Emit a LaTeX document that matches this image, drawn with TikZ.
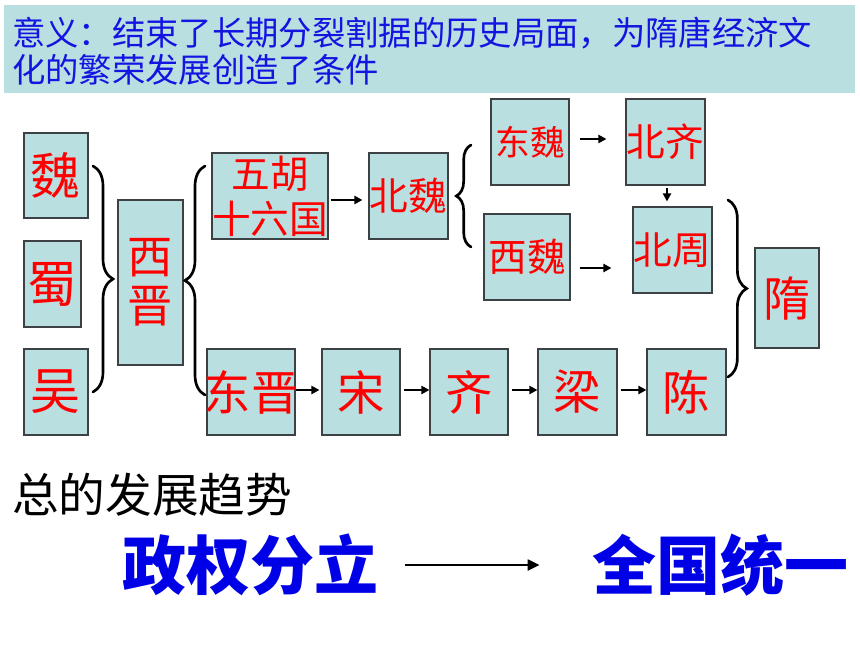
\documentclass[tikz,border=0pt]{standalone}
\usepackage{fontspec}
\setmainfont{Noto Sans CJK SC}
\usetikzlibrary{arrows.meta,calc,decorations.pathreplacing}
\definecolor{boxfill}{RGB}{185,223,225}
\definecolor{boxline}{RGB}{60,66,68}
\definecolor{hdrblue}{RGB}{20,20,225}
\definecolor{tred}{RGB}{255,0,0}
\definecolor{bigblue}{RGB}{0,0,230}
\tikzset{
 pbox/.style={draw=boxline, fill=boxfill, line width=0.8pt, inner sep=0pt, text=tred, align=center},
 arr/.style={line width=1.8pt, -{Triangle[length=6pt,width=6pt]}},
 brc/.style={line width=2pt, line cap=round, decorate, decoration={brace, amplitude=#1}},
 f26/.style={font=\fontsize{26pt}{30pt}\selectfont},
 f29/.style={font=\fontsize{29pt}{34pt}\selectfont},
 f34/.style={font=\fontsize{34pt}{37pt}\selectfont},
 f35/.style={font=\fontsize{35.5pt}{40pt}\selectfont},
 f37/.style={font=\fontsize{37.5pt}{40pt}\selectfont},
 hdr/.style={font=\fontsize{25pt}{28pt}\selectfont, text=hdrblue, inner sep=0pt, anchor=west},
 big/.style={font=\fontsize{48pt}{52pt}\selectfont\bfseries, text=bigblue, inner sep=0pt},
}
\newcommand\pbox[7]{\node[pbox, #6, minimum width={(#4-#2)*0.75pt}, minimum height={(#5-#3)*0.75pt}] (#1) at ({(#2+#4)/2},{(#3+#5)/2}) {#7};}
\begin{document}
\begin{tikzpicture}[x=0.75pt,y=-0.75pt]
\useasboundingbox (0,0) rectangle (860,645);
\fill[white] (0,0) rectangle (860,645);
% header band
\node[fill=boxfill, inner sep=0pt, minimum width={851*0.75pt}, minimum height={88*0.75pt}] (band) at (429.5,49) {};
\node[hdr] (h1) at (12,33) {意义：结束了长期分裂割据的历史局面，为隋唐经济文};
\node[hdr] (h2) at (12,70) {化的繁荣发展创造了条件};
% boxes
\pbox{wei}{24}{133}{88}{218}{f37}{魏}
\pbox{shu}{24}{241}{81}{327}{f37}{蜀}
\pbox{wu}{24}{349}{88}{435}{f37}{吴}
\pbox{xijin}{118}{200}{183}{365}{f34}{西\\晋}
\pbox{wuhu}{213}{153}{327}{239}{f29}{五胡\\十六国}
\pbox{beiwei}{369}{153}{448}{239}{f29}{北魏}
\pbox{dongwei}{491}{99}{569}{185}{f26}{东魏}
\pbox{beiqi}{626}{99}{705}{185}{f29}{北齐}
\pbox{xiwei}{484}{214}{570}{300}{f29}{西魏}
\pbox{beizhou}{633}{207}{712}{293}{f29}{北周}
\pbox{sui}{755}{248}{819}{348}{f35}{隋}
\pbox{dongjin}{207}{349}{295}{435}{f35}{\makebox[0pt]{东晋}}
\pbox{song}{322}{349}{400}{435}{f35}{宋}
\pbox{qi}{430}{349}{508}{435}{f35}{齐}
\pbox{liang}{538}{349}{617}{435}{f35}{梁}
\pbox{chen}{647}{349}{726}{435}{f35}{陈}
% braces
\draw[brc=15pt] (93,166) -- (93,392);
\draw[brc=15pt] (205,395) -- (205,166);
\draw[brc=11pt] (471,247) -- (471,145);
\draw[brc=14pt] (728,200) -- (728,377);
% arrows
\draw[arr] ($(wuhu.east)+(2,4)$) -- ($(beiwei.west)+(-6,4)$);
\draw[arr] ($(dongwei.east)+(10,-3)$) -- ($(beiqi.west)+(-19,-3)$);
\draw[arr] ($(xiwei.east)+(9,11)$) -- ($(beizhou.west|-xiwei.east)+(-21,11)$);
\draw[arr] ($(beiqi.south)+(1.5,2)$) -- ($(beiqi.south|-beizhou.north)+(1.5,-5)$);
\draw[arr] ($(dongjin.east)+(0,-2)$) -- ($(song.west)+(-2,-2)$);
\draw[arr] ($(song.east)+(3,-2)$) -- ($(qi.west)+(0,-2)$);
\draw[arr] ($(qi.east)+(3,-2)$) -- ($(liang.west)+(0,-2)$);
\draw[arr] ($(liang.east)+(3,-2)$) -- ($(chen.west)+(0,-2)$);
% bottom
\node[font=\fontsize{35pt}{40pt}\selectfont, inner sep=0pt, anchor=west] (trend) at (12,495) {总的发展趋势};
\node[big] (fen) at (250,565) {政权分立};
\node[big] (tong) at (720,565) {全国统一};
\draw[line width=2pt, -{Triangle[length=9pt,width=8pt]}] ($(fen.east)+(27,0)$) -- ($(tong.west)+(-52,0)$);
\end{tikzpicture}
\end{document}
